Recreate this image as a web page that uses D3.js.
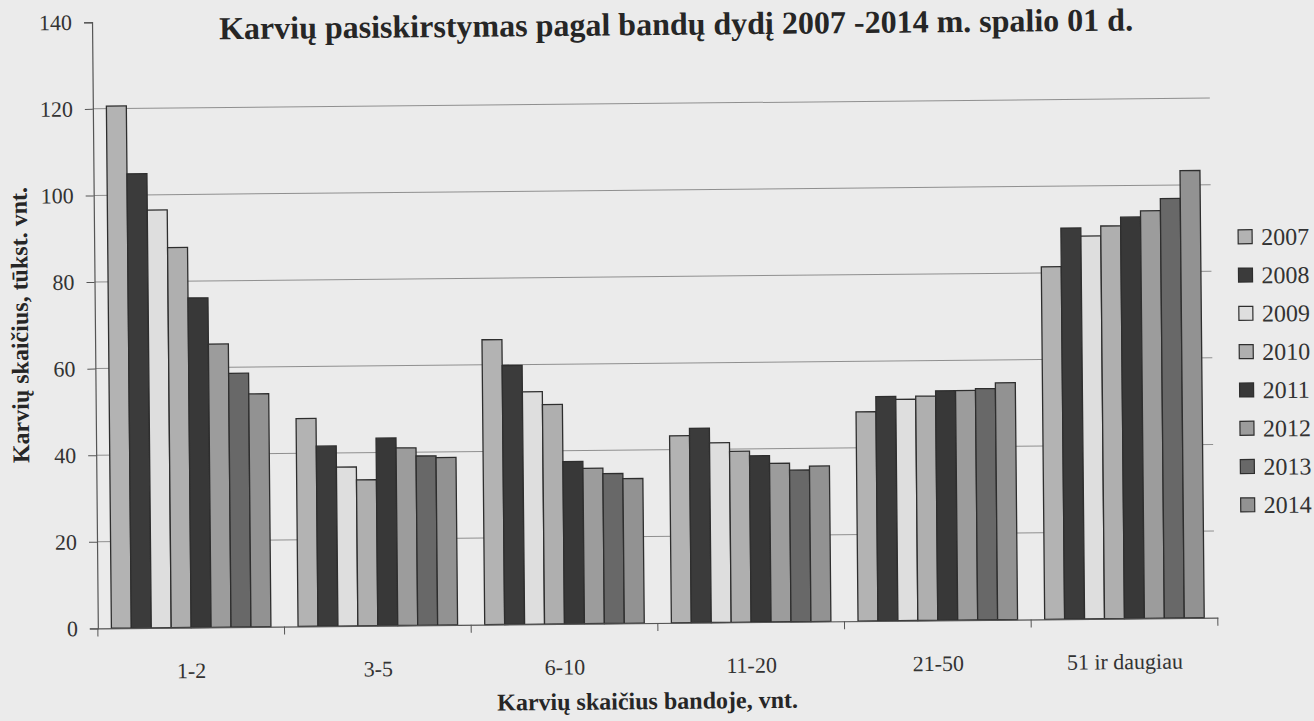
<!DOCTYPE html>
<html lang="lt">
<head>
<meta charset="utf-8">
<title>Karvių pasiskirstymas pagal bandų dydį</title>
<script src="https://cdn.jsdelivr.net/npm/d3@7/dist/d3.min.js"></script>
<style>
  html, body { margin: 0; padding: 0; background: #ebebeb; }
  svg { display: block; font-family: "Liberation Serif", "Times New Roman", serif; }
</style>
</head>
<body>
<svg id="chart" width="1314" height="721"></svg>
<script>
// Herd-size groups (x axis)
const categories = ["1-2", "3-5", "6-10", "11-20", "21-50", "51 ir daugiau"];
// Years shown as series
const years = ["2007", "2008", "2009", "2010", "2011", "2012", "2013", "2014"];

// Cows, thousand head, per herd-size group, by year
const v2007 = [120.6, 48.0, 65.8, 43.2, 48.3, 81.4];
const v2008 = [104.9, 41.6, 59.8, 44.9, 51.8, 90.3];
const v2009 = [96.5, 36.7, 53.7, 41.5, 51.1, 88.4];
const v2010 = [87.8, 33.7, 50.7, 39.5, 51.8, 90.7];
const v2011 = [76.1, 43.3, 37.5, 38.4, 53.0, 92.7];
const v2012 = [65.4, 41.0, 35.9, 36.6, 53.0, 94.1];
const v2013 = [58.6, 39.1, 34.6, 35.0, 53.4, 96.9];
const v2014 = [53.8, 38.7, 33.4, 35.9, 54.7, 103.3];

const yTicks = [0, 20, 40, 60, 80, 100, 120, 140];

const seriesValues = [v2007, v2008, v2009, v2010, v2011, v2012, v2013, v2014];
const colors = ["#b3b3b3", "#3b3b3b", "#dedede", "#afafaf", "#383838", "#9c9c9c", "#686868", "#929292"];

const rows = categories.map((c, i) => ({
  category: c,
  values: years.map((yr, j) => ({ year: yr, value: seriesValues[j][i], color: colors[j] }))
}));

const svg = d3.select("#chart");
const W = 1314, H = 721;

svg.append("rect").attr("width", W).attr("height", H).attr("fill", "#ebebeb");

// the printed sheet sits slightly askew
const page = svg.append("g").attr("transform", "rotate(-0.55, 657, 330)");

const x0 = d3.scaleBand().domain(categories).range([95, 1215]);
const x1 = d3.scaleBand().domain(years).range([0, x0.bandwidth()]).paddingInner(0).paddingOuter(0.68);
const y = d3.scaleLinear().domain([0, 140]).range([623, 16.8]);

const serif = "'Liberation Serif', 'Times New Roman', serif";

// horizontal gridlines
page.append("g")
  .selectAll("line")
  .data(yTicks.filter(t => t > 0 && t < 140))
  .join("line")
  .attr("x1", 95).attr("x2", 1212)
  .attr("y1", d => y(d)).attr("y2", d => y(d))
  .attr("stroke", "#8f8f8f").attr("stroke-width", 1);

// y axis
const yAxis = page.append("g")
  .attr("transform", "translate(95,0)")
  .call(d3.axisLeft(y).tickValues(yTicks).tickSize(8).tickPadding(12));
yAxis.select(".domain").attr("stroke", "#555").attr("stroke-width", 1.2);
yAxis.selectAll(".tick line").attr("stroke", "#555");
yAxis.selectAll("text").attr("font-size", 22).attr("font-family", serif).attr("fill", "#333");

// bars
const groups = page.append("g")
  .selectAll("g")
  .data(rows)
  .join("g")
  .attr("transform", d => `translate(${x0(d.category)},0)`);

groups.selectAll("rect")
  .data(d => d.values)
  .join("rect")
  .attr("x", d => x1(d.year))
  .attr("width", x1.bandwidth())
  .attr("y", d => y(d.value))
  .attr("height", d => y(0) - y(d.value))
  .attr("fill", d => d.color)
  .attr("stroke", "#2e2e2e")
  .attr("stroke-width", 1.3);

// x axis with category labels
const xAxis = page.append("g")
  .attr("transform", `translate(0,${y(0)})`)
  .call(d3.axisBottom(x0).tickSize(0).tickPadding(35));
xAxis.select(".domain").attr("stroke", "#555").attr("stroke-width", 1.2);
xAxis.selectAll("text").attr("font-size", 22).attr("font-family", serif).attr("fill", "#333");

// tick marks between the groups
const bounds = categories.map(c => x0(c)).concat([x0.range()[1]]);
page.append("g")
  .selectAll("line")
  .data(bounds)
  .join("line")
  .attr("x1", d => d).attr("x2", d => d)
  .attr("y1", y(0)).attr("y2", y(0) + 8)
  .attr("stroke", "#555");

// title
page.append("text")
  .attr("x", 679).attr("y", 35)
  .attr("text-anchor", "middle")
  .attr("font-family", serif)
  .attr("font-weight", "bold")
  .attr("font-size", 32)
  .attr("fill", "#262626")
  .text("Karvių pasiskirstymas pagal bandų dydį 2007 -2014 m. spalio 01 d.");

// axis titles
page.append("text")
  .attr("transform", "translate(28,319) rotate(-90)")
  .attr("text-anchor", "middle")
  .attr("font-family", serif)
  .attr("font-weight", "bold")
  .attr("font-size", 24)
  .attr("fill", "#262626")
  .text("Karvių skaičius, tūkst. vnt.");

page.append("text")
  .attr("x", 644).attr("y", 709)
  .attr("text-anchor", "middle")
  .attr("font-family", serif)
  .attr("font-weight", "bold")
  .attr("font-size", 24)
  .attr("fill", "#262626")
  .text("Karvių skaičius bandoje, vnt.");

// legend
const legend = page.append("g")
  .selectAll("g")
  .data(years)
  .join("g")
  .attr("transform", (d, i) => `translate(1239,${242.4 + i * 38.3})`);

legend.append("rect")
  .attr("x", 0).attr("y", -7)
  .attr("width", 14).attr("height", 14)
  .attr("fill", (d, i) => colors[i])
  .attr("stroke", "#2e2e2e")
  .attr("stroke-width", 1.2);

legend.append("text")
  .attr("x", 23).attr("y", 0).attr("dy", "0.35em")
  .attr("font-family", serif)
  .attr("font-size", 24)
  .attr("fill", "#333")
  .text(d => d);
</script>
</body>
</html>
